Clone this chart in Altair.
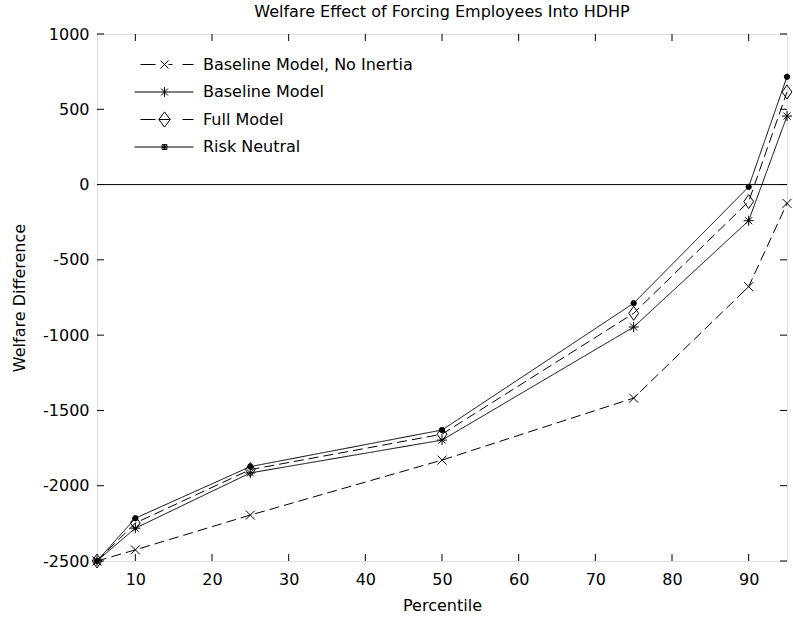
import altair as alt
import pandas as pd

# ---------------- data ----------------
percentile = [5, 10, 25, 50, 75, 90, 95]
no_inertia = [-2500, -2426, -2195, -1830, -1418, -678, -125]
baseline = [-2500, -2282, -1915, -1697, -946, -240, 455]
full_model = [-2500, -2248, -1893, -1658, -855, -113, 615]
risk_neutral = [-2500, -2216, -1873, -1630, -788, -15, 716]

series_names = ["Baseline Model, No Inertia", "Baseline Model", "Full Model", "Risk Neutral"]
x_ticks = [10, 20, 30, 40, 50, 60, 70, 80, 90]
y_ticks = [-2500, -2000, -1500, -1000, -500, 0, 500, 1000]
x_domain = [5, 95]
y_domain = [-2500, 1000]
zero_line = [0]

rows = []
for name, vals in zip(series_names, [no_inertia, baseline, full_model, risk_neutral]):
    for p, v in zip(percentile, vals):
        rows.append({"series": name, "percentile": p, "value": v})
df = pd.DataFrame(rows)
xt_df = pd.DataFrame({"tick": x_ticks})
yt_df = pd.DataFrame({"tick": y_ticks})

# ---------------- styles ----------------
FONT = "DejaVu Sans"
FS = 16
TICK = 7
dash_range = [[10, 5], [1, 0], [10, 5], [1, 0]]
marker_paths = [
    "M-1,-1L1,1M-1,1L1,-1",
    "M-1,0L1,0M0,-1L0,1M-0.7,-0.7L0.7,0.7M-0.7,0.7L0.7,-0.7",
    "M0,-1L0.7,0L0,1L-0.7,0Z",
    "circle",
]
marker_sizes = [81, 100, 196, 28]
marker_fills = ["transparent", "transparent", "transparent", "black"]
legend_paths = [
    "M-6,0L-2.25,0M1,0L2,0M4.5,0L7.25,0M-1,-1L1,1M-1,1L1,-1",
    "M-7.5,0L7.25,0M0,-1.2L0,1.2M-0.85,-0.85L0.85,0.85M-0.85,0.85L0.85,-0.85",
    "M-6,0L-2.25,0M-1.4,0L1.4,0M4.5,0L7.25,0M0,-1.9L1.4,0L0,1.9L-1.4,0Z",
    "M-7.5,0L7.25,0M-0.6,-0.6L0.6,-0.6L0.6,0.6L-0.6,0.6ZM-0.3,-0.3L0.3,-0.3L0.3,0.3L-0.3,0.3ZM0,-0.6L0,0.6",
]

x_scale = alt.Scale(domain=x_domain, nice=False, zero=False)
y_scale = alt.Scale(domain=y_domain, nice=False, zero=False)

label_expr = "datum.value < 0 ? '-' + format(-datum.value, 'd') : format(datum.value, 'd')"
axis_common = dict(
    ticks=False, tickSize=0, domain=False, grid=False,
    labelFont=FONT, labelFontSize=FS, labelColor="black", titleFont=FONT,
    titleFontSize=FS, titleFontWeight="normal", titleColor="black", labelExpr=label_expr,
)

base = alt.Chart(df)

zero = alt.Chart(pd.DataFrame({"zero": zero_line})).mark_rule(color="black", strokeWidth=1).encode(
    y=alt.Y("zero:Q", scale=y_scale, axis=None)
)

# inward tick marks on all four sides of the box
ticks_bottom = alt.Chart(xt_df).mark_rule(color="black", strokeWidth=1, y2Offset=-TICK).encode(
    x=alt.X("tick:Q", scale=x_scale, axis=None),
    y=alt.YDatum(y_domain[0], axis=None), y2=alt.Y2Datum(y_domain[0]),
)
ticks_top = alt.Chart(xt_df).mark_rule(color="black", strokeWidth=1, y2Offset=TICK).encode(
    x=alt.X("tick:Q", scale=x_scale, axis=None),
    y=alt.YDatum(y_domain[1], axis=None), y2=alt.Y2Datum(y_domain[1]),
)
ticks_left = alt.Chart(yt_df).mark_rule(color="black", strokeWidth=1, x2Offset=TICK).encode(
    y=alt.Y("tick:Q", scale=y_scale, axis=None),
    x=alt.XDatum(x_domain[0], axis=None), x2=alt.X2Datum(x_domain[0]),
)
ticks_right = alt.Chart(yt_df).mark_rule(color="black", strokeWidth=1, x2Offset=-TICK).encode(
    y=alt.Y("tick:Q", scale=y_scale, axis=None),
    x=alt.XDatum(x_domain[1], axis=None), x2=alt.X2Datum(x_domain[1]),
)

lines = base.mark_line(color="black", strokeWidth=1).encode(
    x=alt.X("percentile:Q", scale=x_scale,
            axis=alt.Axis(orient="bottom", values=x_ticks, title="Percentile",
                          labelPadding=10, titlePadding=10, **axis_common)),
    y=alt.Y("value:Q", scale=y_scale,
            axis=alt.Axis(orient="left", values=y_ticks, title="Welfare Difference",
                          labelPadding=8, titlePadding=15, **axis_common)),
    detail="series:N",
    strokeDash=alt.StrokeDash("series:N", scale=alt.Scale(domain=series_names, range=dash_range), legend=None),
)

points = base.mark_point(filled=True, stroke="black", strokeWidth=1, opacity=1).encode(
    x=alt.X("percentile:Q", scale=x_scale, axis=None),
    y=alt.Y("value:Q", scale=y_scale, axis=None),
    shape=alt.Shape("series:N", scale=alt.Scale(domain=series_names, range=marker_paths), legend=None),
    size=alt.Size("series:N", scale=alt.Scale(type="ordinal", domain=series_names, range=marker_sizes), legend=None),
    fill=alt.Fill("series:N", scale=alt.Scale(domain=series_names, range=marker_fills), legend=None),
)

legend_layer = base.mark_point(filled=False, color="black", opacity=0, size=64).encode(
    x=alt.X("percentile:Q", scale=x_scale, axis=None),
    y=alt.Y("value:Q", scale=y_scale, axis=None),
    shape=alt.Shape(
        "series:N",
        scale=alt.Scale(domain=series_names, range=legend_paths),
        legend=alt.Legend(
            title=None, orient="none", legendX=37, legendY=18, padding=0,
            symbolSize=64, symbolStrokeWidth=1, symbolStrokeColor="black",
            symbolFillColor="transparent", symbolOpacity=1, symbolOffset=22.5,
            labelFont=FONT, labelFontSize=FS, labelColor="black", labelOffset=30.5,
            labelLimit=0, clipHeight=25, rowPadding=2.5,
        ),
    ),
)

chart = (
    alt.layer(lines, zero, ticks_bottom, ticks_top, ticks_left, ticks_right, points, legend_layer)
    .resolve_scale(shape="independent")
    .resolve_axis(x="independent", y="independent")
    .properties(
        width=690,
        height=527,
        autosize=alt.AutoSizeParams(type="none"),
        padding={"left": 97, "top": 34, "right": 6, "bottom": 56},
        title=alt.TitleParams(
            "Welfare Effect of Forcing Employees Into HDHP",
            font=FONT, fontSize=FS, fontWeight="normal", color="black",
            anchor="middle", baseline="bottom", offset=-10,
        ),
    )
    .configure_view(stroke="black", strokeWidth=1)
    .configure(background="white")
)

chart.save("out.html", embed_options={"renderer": "svg", "actions": False})
